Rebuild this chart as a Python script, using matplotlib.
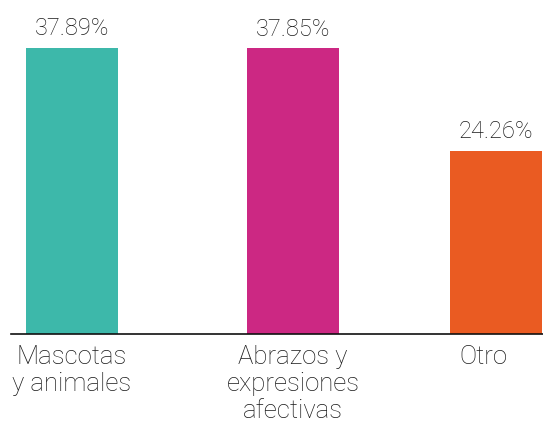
import matplotlib
matplotlib.use("Agg")
import matplotlib.pyplot as plt

# ── Data ──────────────────────────────────────────────
categories = ["Mascotas\ny animales", "Abrazos y\nexpresiones\nafectivas", "Otro"]
values = [37.89, 37.85, 24.26]
value_labels = ["37.89%", "37.85%", "24.26%"]

# ── Layout / style ────────────────────────────────────
bar_pos = [0, 1, 1.92]
tick_pos = [0, 1, 1.86]
colors = ["#3DB8AA", "#CC2883", "#EA5B22"]
text_color = "#1a1a1a"

plt.rcParams["font.family"] = ["Roboto", "DejaVu Sans"]

fig = plt.figure(figsize=(5.43, 4.25), dpi=100)
fig.patch.set_facecolor("white")
ax = fig.add_axes([11 / 543, 1 - 333.5 / 425, 532 / 543, 333.5 / 425])

ax.bar(bar_pos, values, width=0.416, color=colors, linewidth=0)

# value labels above bars
for x, v, lab in zip(bar_pos, values, value_labels):
    ax.annotate(lab, (x, v), xytext=(0, 9), textcoords="offset points",
                ha="center", va="baseline", fontsize=17,
                fontweight="light", color=text_color)

ax.set_xlim(-0.276, 2.131)
ax.set_ylim(0, 44.26)
ax.set_xticks(tick_pos)
ax.set_xticklabels(categories, fontsize=18.5, fontweight="light",
                   color=text_color, linespacing=1.18)
ax.tick_params(axis="x", length=0, pad=8)
ax.set_yticks([])

for s in ("top", "right", "left"):
    ax.spines[s].set_visible(False)
ax.spines["bottom"].set_color("#111111")
ax.spines["bottom"].set_linewidth(1.2)

fig.savefig("out.png", dpi=100)
